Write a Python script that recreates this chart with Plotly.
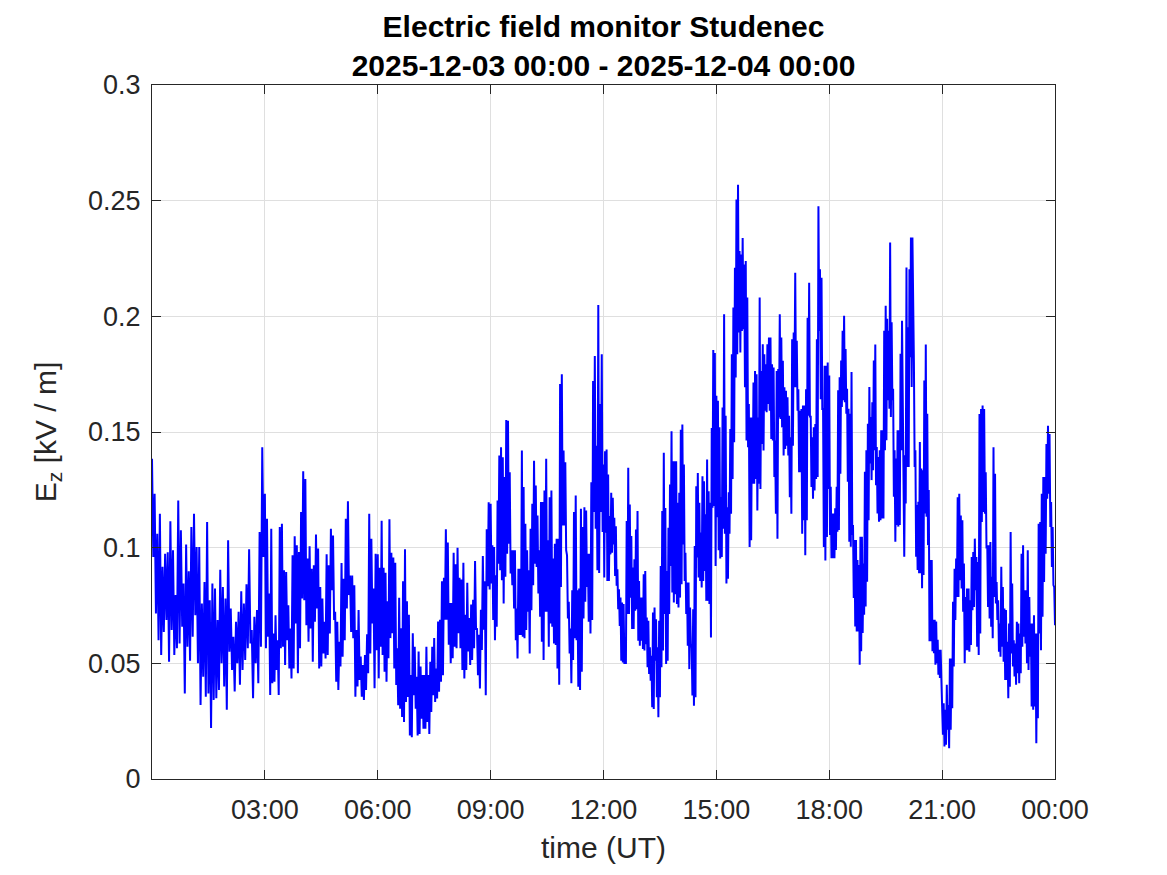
import numpy as np
import pandas as pd
import plotly.graph_objects as go

# ---------------- data ----------------
day_start = "2025-12-03 00:00"
segment_start_hours = [0, 3, 6, 9, 12, 15, 18, 21]
segment_length_hours = 3

seg_00_03 = [0.1384, 0.096, 0.1233, 0.0715, 0.106, 0.060, 0.1147, 0.0536, 0.0917, 0.0636, 0.0974, 0.0687, 0.098, 0.0507,
             0.1114, 0.0644, 0.0989, 0.0536, 0.0795, 0.0565, 0.1204, 0.0586, 0.1075, 0.0658, 0.0845, 0.037, 0.1014, 0.0572,
             0.0898, 0.0511, 0.1089, 0.0615, 0.1147, 0.0708, 0.1003, 0.05, 0.1003, 0.032, 0.0759, 0.0442, 0.0852, 0.0356,
             0.1111, 0.037, 0.0773, 0.022, 0.0845, 0.0342, 0.0823, 0.0349, 0.0687, 0.0385, 0.0905, 0.05, 0.083, 0.040,
             0.078, 0.0299, 0.1032, 0.055, 0.0737, 0.0471, 0.0615, 0.0378, 0.068, 0.05, 0.0723, 0.0407, 0.0812, 0.0471,
             0.0759, 0.0514, 0.0842, 0.0565, 0.0993, 0.0586, 0.0644, 0.0349, 0.0701, 0.05, 0.073, 0.0414, 0.1068, 0.0572,
             0.1434, 0.096]
seg_03_06 = [0.1233, 0.0565, 0.1125, 0.0615, 0.0802, 0.0363, 0.1082, 0.0414, 0.0629, 0.0421, 0.0708, 0.0471, 0.06, 0.0363,
             0.1089, 0.0565, 0.1103, 0.0572, 0.0902, 0.0493, 0.0895, 0.06, 0.0751, 0.0478, 0.0651, 0.0435, 0.0967, 0.0478,
             0.1049, 0.0672, 0.101, 0.0457, 0.0981, 0.0565, 0.1154, 0.078, 0.133, 0.0773, 0.1297, 0.0665, 0.0953, 0.0593,
             0.1006, 0.0651, 0.0909, 0.0507, 0.0924, 0.068, 0.1057, 0.0737, 0.0996, 0.0478, 0.083, 0.0486, 0.078, 0.0543,
             0.068, 0.0521, 0.0971, 0.0536, 0.0924, 0.0629, 0.1082, 0.0816, 0.1053, 0.0687, 0.0723, 0.0421, 0.068, 0.0385,
             0.0593, 0.0486, 0.0934, 0.0529, 0.0866, 0.06, 0.1125, 0.0737, 0.1201, 0.0795, 0.088, 0.0636, 0.088, 0.0608,
             0.0837, 0.0356, 0.0644, 0.04, 0.073, 0.0428, 0.0529, 0.0356, 0.0493, 0.0342, 0.0536, 0.0385, 0.0626, 0.0457,
             0.1147, 0.0543, 0.1039, 0.0672, 0.0823, 0.0392, 0.0974, 0.0557]
seg_06_09 = [0.0971, 0.0435, 0.0913, 0.0572, 0.1116, 0.0536, 0.0913, 0.0464, 0.0891, 0.042, 0.0768, 0.0522, 0.1123, 0.0609,
             0.0978, 0.063, 0.0957, 0.0478, 0.0935, 0.0406, 0.0565, 0.0319, 0.0783, 0.0304, 0.0652, 0.0268, 0.0855, 0.0246,
             0.0993, 0.0333, 0.0768, 0.0355, 0.071, 0.0188, 0.0449, 0.0181, 0.063, 0.0362, 0.0572, 0.0304, 0.0442, 0.0188,
             0.0551, 0.0195, 0.0486, 0.026, 0.0449, 0.0217, 0.0449, 0.0217, 0.0572, 0.0246, 0.0449, 0.0195, 0.0507, 0.029,
             0.0572, 0.0362, 0.0609, 0.0333, 0.0478, 0.0348, 0.0681, 0.0377, 0.0688, 0.042, 0.0855, 0.0449, 0.087, 0.0688,
             0.108, 0.0688, 0.1022, 0.058, 0.0761, 0.05, 0.0761, 0.0522, 0.0978, 0.0572, 0.0928, 0.0565, 0.1, 0.063,
             0.087, 0.0565, 0.0862, 0.0471, 0.0935, 0.0435, 0.071, 0.0471, 0.0848, 0.0551, 0.0696, 0.0493, 0.0754, 0.0514,
             0.0775, 0.0565, 0.0942, 0.0645, 0.0652, 0.0449, 0.0623, 0.0391, 0.0732, 0.0558, 0.0964, 0.0645, 0.0855, 0.0362,
             0.108, 0.0833, 0.1196, 0.0819]
seg_09_12 = [0.119, 0.0845, 0.101, 0.0687, 0.1003, 0.06, 0.0881, 0.0658, 0.1204, 0.0931, 0.1398, 0.0902, 0.1434, 0.0859,
             0.1391, 0.0759, 0.1305, 0.0874, 0.1552, 0.0974, 0.1549, 0.1017, 0.1326, 0.0888, 0.0989, 0.0838, 0.0989, 0.0737,
             0.0989, 0.06, 0.0737, 0.0521, 0.0909, 0.0622, 0.0909, 0.0622, 0.142, 0.0615, 0.1262, 0.0608, 0.1103, 0.0644,
             0.0989, 0.0723, 0.0902, 0.0543, 0.1082, 0.073, 0.119, 0.0838, 0.1376, 0.0931, 0.1269, 0.0917, 0.1139, 0.0802,
             0.0989, 0.0701, 0.1197, 0.0593, 0.1197, 0.0514, 0.1247, 0.0723, 0.1384, 0.0723, 0.1032, 0.0572, 0.1218, 0.0672,
             0.1247, 0.0658, 0.0953, 0.0586, 0.1017, 0.0579, 0.1039, 0.0478, 0.1039, 0.0407, 0.1707, 0.083, 0.175, 0.1096,
             0.142, 0.1096, 0.1369, 0.0989, 0.0967, 0.0694, 0.0766, 0.0543, 0.0651, 0.0414, 0.0816, 0.0514, 0.1154, 0.0608,
             0.1226, 0.06, 0.0816, 0.0399, 0.0823, 0.0385, 0.1168, 0.0464, 0.1089, 0.0694, 0.1175, 0.0766, 0.1161, 0.083,
             0.0974, 0.068, 0.0974, 0.0629, 0.1283, 0.0687, 0.1721, 0.1154, 0.1829, 0.1082, 0.1441, 0.0902, 0.2049, 0.0891,
             0.1621, 0.1154, 0.1836, 0.1068]
seg_12_15 = [0.1359, 0.0871, 0.1417, 0.1065, 0.1424, 0.0856, 0.1316, 0.0856, 0.1137, 0.0971, 0.1237, 0.0978, 0.1216, 0.1014,
             0.1129, 0.0878, 0.1093, 0.0835, 0.0907, 0.0734, 0.082, 0.0662, 0.0784, 0.0511, 0.0763, 0.0504, 0.0756, 0.0497,
             0.0612, 0.0497, 0.1115, 0.0713, 0.1345, 0.0713, 0.1187, 0.0784, 0.105, 0.0648, 0.0914, 0.0648, 0.095, 0.0727,
             0.1079, 0.0734, 0.1158, 0.0598, 0.0856, 0.0576, 0.0784, 0.0598, 0.0784, 0.0562, 0.0885, 0.0555, 0.0899, 0.0583,
             0.0698, 0.0483, 0.0684, 0.0454, 0.0569, 0.0425, 0.0533, 0.031, 0.072, 0.0303, 0.0741, 0.0511, 0.0691, 0.0353,
             0.0569, 0.0267, 0.0684, 0.0353, 0.0921, 0.0483, 0.1158, 0.0555, 0.141, 0.0713, 0.1172, 0.0497, 0.0899, 0.0511,
             0.1086, 0.0713, 0.1273, 0.0921, 0.1503, 0.0806, 0.1374, 0.0763, 0.1374, 0.0799, 0.1374, 0.0756, 0.1194, 0.0741,
             0.1237, 0.0784, 0.151, 0.0842, 0.1532, 0.1014, 0.1359, 0.0856, 0.0978, 0.0713, 0.0849, 0.0576, 0.0849, 0.0475,
             0.0741, 0.0569, 0.0583, 0.0361, 0.0734, 0.0317, 0.1007, 0.0353, 0.1266, 0.0957, 0.1323, 0.0871, 0.1194, 0.0856,
             0.1065, 0.0828, 0.1309, 0.0856, 0.1287, 0.0899, 0.1144, 0.077, 0.1381, 0.077, 0.1244, 0.0756, 0.1194, 0.0612,
             0.1517, 0.1172, 0.1855, 0.118, 0.1841, 0.0921]
seg_15_18 = [0.1657, 0.1132, 0.1635, 0.0989, 0.152, 0.0953, 0.1218, 0.096, 0.1606, 0.1082, 0.2009, 0.106, 0.157, 0.0845,
             0.1175, 0.0866, 0.124, 0.106, 0.1513, 0.1147, 0.1836, 0.1297, 0.2038, 0.1456, 0.221, 0.1736, 0.2505, 0.1836,
             0.2569, 0.193, 0.2282, 0.1844, 0.2267, 0.1937, 0.2339, 0.1944, 0.2224, 0.1693, 0.2239, 0.1463, 0.2081, 0.1434,
             0.1621, 0.1003, 0.1563, 0.1032, 0.1563, 0.1276, 0.1714, 0.1276, 0.1764, 0.1297, 0.175, 0.1161, 0.1563, 0.1276,
             0.2081, 0.1254, 0.1764, 0.1448, 0.1879, 0.142, 0.1836, 0.1592, 0.1793, 0.1585, 0.1879, 0.1621, 0.1908, 0.1592,
             0.1908, 0.147, 0.1793, 0.1463, 0.1779, 0.1305, 0.1463, 0.1147, 0.1764, 0.1039, 0.1772, 0.1563, 0.2009, 0.1556,
             0.1908, 0.152, 0.1808, 0.1398, 0.1693, 0.1427, 0.1678, 0.1441, 0.165, 0.1398, 0.157, 0.1218, 0.1477, 0.1147,
             0.1901, 0.1441, 0.193, 0.1693, 0.2188, 0.1693, 0.1894, 0.1592, 0.1685, 0.1326, 0.1592, 0.1326, 0.1599, 0.106,
             0.1614, 0.1118, 0.1614, 0.0967, 0.1685, 0.1118, 0.1994, 0.157, 0.2145, 0.1563, 0.157, 0.1262, 0.1477, 0.1211,
             0.152, 0.1247, 0.1535, 0.1297, 0.1901, 0.1305, 0.2476, 0.1937, 0.2203, 0.1642, 0.2167, 0.1599, 0.1599, 0.1003,
             0.1786, 0.0945, 0.1786, 0.1046, 0.18, 0.1254]
seg_18_21 = [0.1744, 0.1055, 0.1263, 0.0954, 0.1148, 0.0954, 0.1148, 0.0954, 0.117, 0.099, 0.1263, 0.1069, 0.168, 0.1076,
             0.1737, 0.132, 0.1809, 0.1608, 0.1938, 0.1637, 0.2003, 0.1629, 0.1859, 0.1579, 0.1687, 0.1285, 0.1601, 0.1026,
             0.1579, 0.1004, 0.1759, 0.1055, 0.1098, 0.0782, 0.1033, 0.0659, 0.1033, 0.0638, 0.0947, 0.0638, 0.0925, 0.0494,
             0.1047, 0.0552, 0.1047, 0.0631, 0.0932, 0.071, 0.1328, 0.0746, 0.1421, 0.0853, 0.1536, 0.1119, 0.1694, 0.1364,
             0.1565, 0.1292, 0.1629, 0.1335, 0.1809, 0.1421, 0.1878, 0.127, 0.1435, 0.1148, 0.1392, 0.1112, 0.1421, 0.1119,
             0.1507, 0.1126, 0.1507, 0.1126, 0.1938, 0.1421, 0.2046, 0.1464, 0.1989, 0.1637, 0.1938, 0.1601, 0.2319, 0.1565,
             0.1974, 0.1637, 0.1687, 0.122, 0.1421, 0.1026, 0.1385, 0.1098, 0.1507, 0.1091, 0.1507, 0.1098, 0.1838, 0.1421,
             0.1981, 0.1694, 0.1399, 0.0961, 0.1399, 0.1191, 0.2211, 0.1349, 0.1953, 0.1349, 0.2204, 0.1823, 0.2341, 0.1694,
             0.2341, 0.1809, 0.1802, 0.1349, 0.1421, 0.0961, 0.1184, 0.0904, 0.1198, 0.0889, 0.1457, 0.0889, 0.1342, 0.0825,
             0.1335, 0.0882, 0.1723, 0.1148, 0.1878, 0.1134, 0.1579, 0.1011, 0.1249, 0.0595, 0.0947, 0.0595, 0.0947, 0.0552,
             0.0688, 0.0544, 0.0688, 0.0494, 0.0681, 0.0501, 0.0602, 0.0451, 0.0559, 0.0437, 0.0559, 0.043]
seg_21_24 = [0.0349, 0.0191, 0.0327, 0.0141, 0.0299, 0.0148, 0.0407, 0.0213, 0.032, 0.0133, 0.0521, 0.0213, 0.0521, 0.0306,
             0.0766, 0.0486, 0.0909, 0.0687, 0.0953, 0.0787, 0.1218, 0.0787, 0.1233, 0.0859, 0.1139, 0.0823, 0.1118, 0.0723,
             0.0931, 0.05, 0.0787, 0.0557, 0.0823, 0.0557, 0.0823, 0.055, 0.0773, 0.0579, 0.096, 0.073, 0.0981, 0.0744,
             0.1039, 0.0816, 0.096, 0.0572, 0.0938, 0.0536, 0.1578, 0.0629, 0.1599, 0.1111, 0.1614, 0.1154, 0.1599, 0.1147,
             0.1326, 0.0996, 0.101, 0.0744, 0.101, 0.0694, 0.1024, 0.0658, 0.0874, 0.0608, 0.1434, 0.0787, 0.1319, 0.0759,
             0.0852, 0.0687, 0.0773, 0.055, 0.0672, 0.0529, 0.0917, 0.0572, 0.083, 0.0507, 0.0737, 0.0428, 0.073, 0.0428,
             0.0593, 0.0349, 0.0672, 0.0399, 0.1068, 0.0543, 0.0845, 0.0486, 0.06, 0.0443, 0.0586, 0.0407, 0.068, 0.0457,
             0.0672, 0.0414, 0.0629, 0.0457, 0.0974, 0.0572, 0.101, 0.0615, 0.0816, 0.0586, 0.0816, 0.05, 0.0989, 0.0471,
             0.0787, 0.0529, 0.0672, 0.0313, 0.0672, 0.0299, 0.0708, 0.0313, 0.0629, 0.0155, 0.0629, 0.0263, 0.1103, 0.0629,
             0.1111, 0.0557, 0.1233, 0.0701, 0.1305, 0.0852, 0.1305, 0.0974, 0.1448, 0.1211, 0.1527, 0.1233, 0.1491, 0.1089,
             0.1197, 0.0917, 0.1089, 0.0838, 0.083, 0.0665]

segments = [seg_00_03, seg_03_06, seg_06_09, seg_09_12, seg_12_15, seg_15_18, seg_18_21, seg_21_24]

x_tick_hours = [3, 6, 9, 12, 15, 18, 21, 24]
x_tick_labels = ["03:00", "06:00", "09:00", "12:00", "15:00", "18:00", "21:00", "00:00"]
y_tick_values = [0, 0.05, 0.1, 0.15, 0.2, 0.25, 0.3]
y_tick_labels = ["0", "0.05", "0.1", "0.15", "0.2", "0.25", "0.3"]

# ---------------- build time series ----------------
t0 = pd.Timestamp(day_start)
times, values = [], []
for k, (h0, seg) in enumerate(zip(segment_start_hours, segments)):
    last = k == len(segments) - 1
    hrs = np.linspace(h0, h0 + segment_length_hours, len(seg), endpoint=last)
    times.extend(t0 + pd.to_timedelta(hrs, unit="h"))
    values.extend(seg)

FONT = "Liberation Sans, Arial, Helvetica, sans-serif"
AX = "#262626"
GRID = "#dfdfdf"

fig = go.Figure()
fig.add_trace(go.Scatter(x=times, y=values, mode="lines",
                         line=dict(color="#0000ff", width=2), showlegend=False))

# page body has an 8px margin, so the figure is drawn offset by (8, 8)
fig.update_layout(
    width=1159, height=867,
    paper_bgcolor="white", plot_bgcolor="white",
    margin=dict(l=144, r=112, t=77, b=96),
    font=dict(family=FONT, size=27, color=AX),
    title=dict(
        text="<b>Electric field monitor Studenec</b><br><b>2025-12-03 00:00 - 2025-12-04 00:00</b>",
        x=0.5, xref="paper", xanchor="center",
        y=0.967, yref="container", yanchor="top",
        font=dict(family=FONT, size=30, color="black"),
    ),
)

fig.update_xaxes(
    range=[t0, t0 + pd.Timedelta(hours=24)],
    tickvals=[t0 + pd.Timedelta(hours=h) for h in x_tick_hours],
    ticktext=x_tick_labels,
    showgrid=True, gridcolor=GRID, gridwidth=1,
    showline=True, linecolor=AX, linewidth=1, mirror="ticks",
    ticks="inside", ticklen=9, tickcolor=AX, tickwidth=1,
    tickfont=dict(size=27, color=AX), ticklabelstandoff=7,
    title=dict(text="time (UT)", font=dict(size=30, color=AX), standoff=12),
    zeroline=False,
)
fig.update_yaxes(
    range=[0, 0.3],
    tickvals=y_tick_values, ticktext=y_tick_labels,
    showgrid=True, gridcolor=GRID, gridwidth=1,
    showline=True, linecolor=AX, linewidth=1, mirror="ticks",
    ticks="inside", ticklen=9, tickcolor=AX, tickwidth=1,
    tickfont=dict(size=27, color=AX), ticklabelstandoff=5,
    title=dict(text="E<sub>z</sub> [kV / m]", font=dict(size=30, color=AX), standoff=22),
    zeroline=False,
)

fig.write_html("out.html")
